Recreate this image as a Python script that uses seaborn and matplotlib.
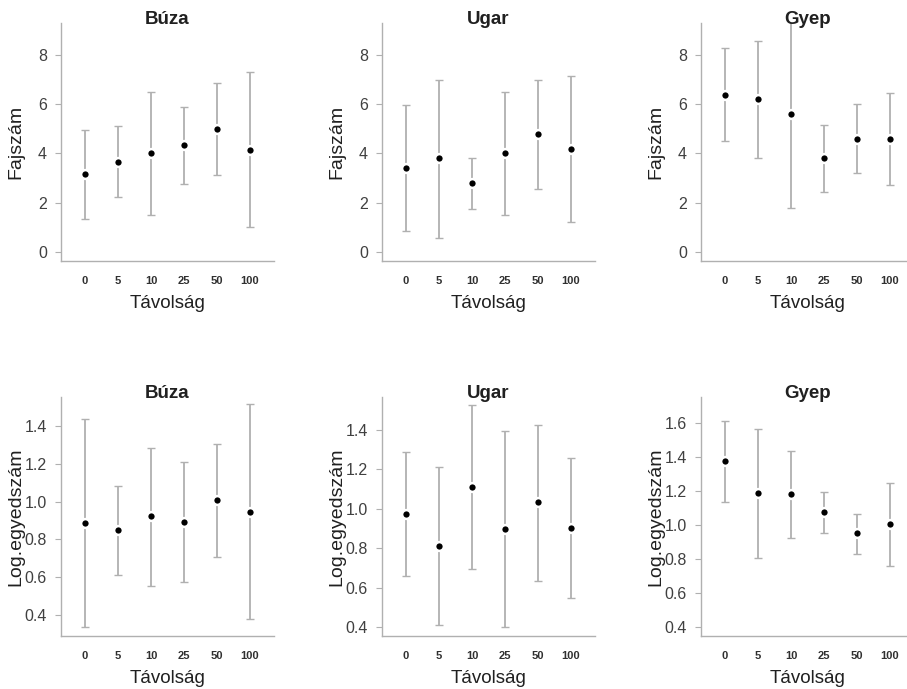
import numpy as np
import pandas as pd
import seaborn as sns
import matplotlib.pyplot as plt

# Categories (distance)
distances = ["0", "5", "10", "25", "50", "100"]
habitats = ["Búza", "Ugar", "Gyep"]

# Species number (Fajszám): mean, lower, upper
faj_mean = {
    "Búza": [3.17, 3.66, 4.00, 4.33, 4.99, 4.16],
    "Ugar": [3.39, 3.80, 2.79, 4.00, 4.79, 4.20],
    "Gyep": [6.39, 6.20, 5.60, 3.80, 4.60, 4.60],
}
faj_low = {
    "Búza": [1.34, 2.22, 1.50, 2.74, 3.13, 1.03],
    "Ugar": [0.84, 0.58, 1.75, 1.50, 2.56, 1.23],
    "Gyep": [4.50, 3.80, 1.80, 2.43, 3.19, 2.71],
}
faj_high = {
    "Búza": [4.96, 5.10, 6.49, 5.90, 6.86, 7.31],
    "Ugar": [5.97, 7.00, 3.82, 6.48, 7.00, 7.15],
    "Gyep": [8.27, 8.57, 9.40, 5.14, 5.99, 6.47],
}

# Log abundance (Log.egyedszám): mean, lower, upper
log_mean = {
    "Búza": [0.888, 0.850, 0.922, 0.892, 1.007, 0.945],
    "Ugar": [0.973, 0.812, 1.110, 0.898, 1.032, 0.903],
    "Gyep": [1.376, 1.186, 1.184, 1.075, 0.951, 1.006],
}
log_low = {
    "Búza": [0.336, 0.610, 0.554, 0.575, 0.708, 0.379],
    "Ugar": [0.661, 0.412, 0.695, 0.400, 0.632, 0.547],
    "Gyep": [1.135, 0.806, 0.925, 0.951, 0.831, 0.757],
}
log_high = {
    "Búza": [1.437, 1.085, 1.285, 1.212, 1.304, 1.515],
    "Ugar": [1.288, 1.214, 1.527, 1.392, 1.427, 1.256],
    "Gyep": [1.614, 1.565, 1.437, 1.192, 1.067, 1.249],
}

sns.set_style("white")
plt.rcParams["font.family"] = ["Liberation Sans", "DejaVu Sans"]

fig = plt.figure(figsize=(9.07, 6.89), dpi=100)

lefts = [61 / 907, 382 / 907, 701 / 907]
width = 213 / 907
rows = [
    dict(bottom=1 - 261 / 689, height=238 / 689, mean=faj_mean, low=faj_low,
         high=faj_high, ylabel="Fajszám",
         ylims={"Búza": (-0.37, 9.3), "Ugar": (-0.37, 9.3), "Gyep": (-0.37, 9.3)},
         yticks={h: [0, 2, 4, 6, 8] for h in habitats}, fmt="{:.0f}"),
    dict(bottom=1 - 636 / 689, height=239 / 689, mean=log_mean, low=log_low,
         high=log_high, ylabel="Log.egyedszám",
         ylims={"Búza": (0.289, 1.554), "Ugar": (0.354, 1.567), "Gyep": (0.347, 1.753)},
         yticks={"Búza": [0.4, 0.6, 0.8, 1.0, 1.2, 1.4],
                 "Ugar": [0.4, 0.6, 0.8, 1.0, 1.2, 1.4],
                 "Gyep": [0.4, 0.6, 0.8, 1.0, 1.2, 1.4, 1.6]}, fmt="{:.1f}"),
]

grey = "#b0b0b0"
txt = "#404040"

for row in rows:
    for left, hab in zip(lefts, habitats):
        ax = fig.add_axes([left, row["bottom"], width, row["height"]])
        pos = np.arange(len(distances))
        m = np.array(row["mean"][hab])
        lo = np.array(row["low"][hab])
        hi = np.array(row["high"][hab])
        ax.errorbar(pos, m, yerr=[m - lo, hi - m], fmt="none", ecolor=grey,
                    elinewidth=1.3, capsize=3, capthick=1.0, zorder=1)
        df = pd.DataFrame({"pos": pos, "mean": m})
        sns.scatterplot(data=df, x="pos", y="mean", ax=ax, color="black", s=40,
                        edgecolor="white", linewidth=1.8, zorder=3)
        ax.set_xlim(-0.73, 5.73)
        ax.set_ylim(*row["ylims"][hab])
        ax.set_xticks(pos)
        ax.set_xticklabels(distances, fontsize=8, fontweight="bold", color="#303030")
        ax.set_yticks(row["yticks"][hab])
        ax.set_yticklabels([row["fmt"].format(v) for v in row["yticks"][hab]],
                           fontsize=11.5, color=txt)
        ax.tick_params(axis="y", length=4, width=0.8, color=grey, pad=6, left=True)
        ax.tick_params(axis="x", length=0, pad=11)
        for s in ["top", "right"]:
            ax.spines[s].set_visible(False)
        for s in ["left", "bottom"]:
            ax.spines[s].set_color(grey)
            ax.spines[s].set_linewidth(1.0)
        ax.set_xlabel("Távolság", fontsize=13.5, color="#202020", labelpad=6)
        ax.set_ylabel(row["ylabel"], fontsize=14, color="#202020")
        ax.yaxis.set_label_coords(-0.17, 0.5)
        ax.set_title(hab, fontsize=13.5, fontweight="bold", color="#202020", pad=-1)

fig.savefig("out.png", dpi=100)
